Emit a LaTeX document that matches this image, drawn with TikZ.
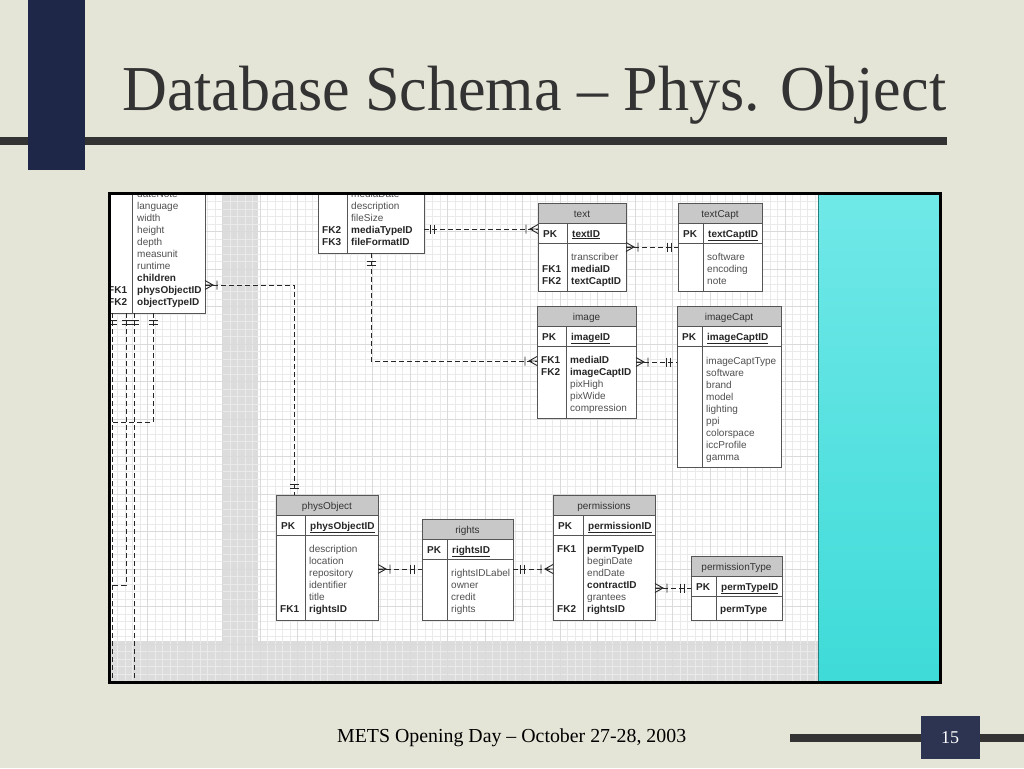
\documentclass[tikz,border=0pt]{standalone}
\usepackage{fontspec}
\usepackage{graphicx}
\setmainfont{Liberation Serif}
\newfontfamily\tabfont{Liberation Sans}
\definecolor{bgc}{HTML}{E5E5D7}
\definecolor{navy}{HTML}{1F2749}
\definecolor{barc}{HTML}{333333}
\definecolor{hdrc}{HTML}{C8C8C8}
\definecolor{linec}{HTML}{555555}
\definecolor{bandc}{HTML}{DCDCDC}
\definecolor{gridc}{HTML}{EAEAEA}
\definecolor{gridm}{HTML}{DADADA}
\definecolor{fldc}{HTML}{505050}
\definecolor{titlec}{HTML}{333333}
\definecolor{cyantop}{HTML}{70E8E8}
\definecolor{cyanbot}{HTML}{3EDBD8}
\tikzset{
 tabframe/.style={fill=white, draw=linec, line width=0.8pt, inner sep=0pt, outer sep=0pt, rectangle},
 tabline/.style={draw=linec, line width=0.8pt},
 hdr/.style={font=\tabfont\fontsize{10}{12}\selectfont, text=titlec, inner sep=0pt},
 pkl/.style={anchor=base west, inner sep=0pt, font=\tabfont\bfseries\fontsize{10}{12}\selectfont, text=black!85},
 fn/.style={anchor=base west, inner sep=0pt, font=\tabfont\fontsize{10}{12}\selectfont, text=fldc},
 fb/.style={anchor=base west, inner sep=0pt, font=\tabfont\bfseries\fontsize{10}{12}\selectfont, text=black!85},
 rel/.style={draw=black!85, line width=0.9pt, dash pattern=on 5pt off 3pt},
 mk/.style={draw=black!85, line width=0.9pt},
 gridminor/.style={draw=gridc, line width=0.5pt},
 gridmajor/.style={draw=gridm, line width=0.5pt},
}
\newcommand\ertab[8]{%
 \node[tabframe, minimum width=#4-#2, minimum height=#5-#3] (#1) at ({(#2+#4)/2},{(#3+#5)/2}) {};
 \fill[hdrc] (#2,#3) rectangle (#4,#3+20.5);
 \draw[tabline] (#2,#3+20.5) -- (#4,#3+20.5) (#2,#3+40.5) -- (#4,#3+40.5) (#6,#3+20.5) -- (#6,#5);
 \draw[tabline] (#1.north west) rectangle (#1.south east);
 \node[hdr, anchor=base] (#1-h) at ({(#2+#4)/2},#3+14) {#7};
 \node[pkl] (#1-pl) at (#2+5,#3+34.1) {PK};
 \node[fb] (#1-pk) at (#6+5,#3+34.1) {\underline{#8}};
}
\newcommand\erbody[4]{\foreach \fs/\ft [count=\i] in {#4} {\node[f\fs] (#1-r\i) at (#2,{#3+12*(\i-1)+3.6}) {\ft};}}
\newcommand\fkl[4]{\node[pkl] (#1) at (#2,#3+3.6) {#4};}
\newcommand\hbars[2]{\draw[mk] (#1-2,#2-4.5) -- (#1-2,#2+4.5) (#1+2,#2-4.5) -- (#1+2,#2+4.5);}
\newcommand\vbars[2]{\draw[mk] (#1-4.5,#2-2) -- (#1+4.5,#2-2) (#1-4.5,#2+2) -- (#1+4.5,#2+2);}
\newcommand\crowL[2]{\draw[mk] (#1,#2-4.5) -- (#1+8,#2) -- (#1,#2+4.5) (#1,#2) -- (#1+8,#2) (#1+12,#2-4.5) -- (#1+12,#2+4.5);}
\newcommand\crowR[2]{\draw[mk] (#1,#2-4.5) -- (#1-8,#2) -- (#1,#2+4.5) (#1,#2) -- (#1-8,#2) (#1-12,#2-4.5) -- (#1-12,#2+4.5);}
\begin{document}
\begin{tikzpicture}[x=1pt,y=-1pt]
\useasboundingbox (0,0) rectangle (1024,768);
\fill[bgc] (0,0) rectangle (1024,768);
% title area
\fill[barc] (0,137) rectangle (947,145);
\fill[navy] (28,0) rectangle (85,170);
\node[anchor=base west, inner sep=0pt, text=titlec] (title) at (122,110)
  {\fontsize{64}{64}\selectfont\scalebox{0.97}[1]{Database Schema – Phys. Object}};
% diagram area
\begin{scope}
\clip (110,194) rectangle (818,682);
\fill[white] (110,194) rectangle (818,682);
\fill[bandc] (222,194) rectangle (258,682);
\fill[bandc] (110,641) rectangle (818,682);
\foreach \gx in {0,...,95} {\draw[gridminor] ({110+7.5*\gx},194) -- ({110+7.5*\gx},682);}
\foreach \gy in {0,...,66} {\draw[gridminor] (110,{194+7.5*\gy}) -- (818,{194+7.5*\gy});}
\foreach \gx in {0,...,19} {\draw[gridmajor] ({110+37.5*\gx},194) -- ({110+37.5*\gx},682);}
\foreach \gy in {0,...,13} {\draw[gridmajor] (110,{194+37.5*\gy}) -- (818,{194+37.5*\gy});}
% tables
\ertab{tl}{103}{130}{205}{313}{132}{}{}
\erbody{tl}{137}{194}{n/dateNote,n/language,n/width,n/height,n/depth,n/measunit,n/runtime,b/children,b/physObjectID,b/objectTypeID}
\fkl{tl-k1}{108}{290}{FK1}
\fkl{tl-k2}{108}{302}{FK2}
\ertab{media}{318}{130}{424}{253}{347}{}{}
\erbody{media}{351}{194}{n/mediaDate,n/description,n/fileSize,b/mediaTypeID,b/fileFormatID}
\fkl{media-k2}{322}{230}{FK2}
\fkl{media-k3}{322}{242}{FK3}
\ertab{text}{538}{203}{626}{291}{567}{text}{textID}
\erbody{text}{571}{257}{n/transcriber,b/mediaID,b/textCaptID}
\fkl{text-k1}{542}{269}{FK1}
\fkl{text-k2}{542}{281}{FK2}
\ertab{textCapt}{678}{203}{762}{291}{703}{textCapt}{textCaptID}
\erbody{textCapt}{707}{257}{n/software,n/encoding,n/note}
\ertab{image}{537}{306}{636}{418}{566}{image}{imageID}
\erbody{image}{570}{360}{b/mediaID,b/imageCaptID,n/pixHigh,n/pixWide,n/compression}
\fkl{image-k1}{541}{360}{FK1}
\fkl{image-k2}{541}{372}{FK2}
\ertab{imageCapt}{677}{306}{781}{467}{702}{imageCapt}{imageCaptID}
\erbody{imageCapt}{706}{361}{n/imageCaptType,n/software,n/brand,n/model,n/lighting,n/ppi,n/colorspace,n/iccProfile,n/gamma}
\ertab{physObject}{276}{495}{378}{620}{305}{physObject}{physObjectID}
\erbody{physObject}{309}{549}{n/description,n/location,n/repository,n/identifier,n/title,b/rightsID}
\fkl{physObject-k1}{280}{609}{FK1}
\ertab{rights}{422}{519}{513}{620}{447}{rights}{rightsID}
\erbody{rights}{451}{573}{n/rightsIDLabel,n/owner,n/credit,n/rights}
\ertab{permissions}{553}{495}{655}{620}{583}{permissions}{permissionID}
\erbody{permissions}{587}{549}{b/permTypeID,n/beginDate,n/endDate,b/contractID,n/grantees,b/rightsID}
\fkl{permissions-k1}{557}{549}{FK1}
\fkl{permissions-k2}{557}{609}{FK2}
\ertab{permissionType}{691}{556}{782}{620}{716}{permissionType}{permTypeID}
\erbody{permissionType}{720}{609}{b/permType}
% connectors
\coordinate (ya) at (0,229);
\coordinate (yb) at (0,247);
\coordinate (yc) at (0,361);
\coordinate (yd) at (0,362);
\coordinate (ye) at (0,285);
\coordinate (xe) at (294,0);
\coordinate (yf) at (0,569);
\coordinate (yh) at (0,588);
\draw[rel] (media.east |- ya) -- (text.west |- ya);
\hbars{432}{229} \crowR{538}{229}
\draw[rel] (text.east |- yb) -- (textCapt.west |- yb);
\crowL{626}{247} \hbars{669}{247}
\draw[rel] (media.south) |- (image.west |- yc);
\vbars{371}{263} \crowR{537}{361}
\draw[rel] (image.east |- yd) -- (imageCapt.west |- yd);
\crowL{636}{362} \hbars{668}{362}
\draw[rel] (tl.east |- ye) -| (xe |- physObject.north);
\crowL{205}{285} \vbars{294}{486}
\draw[rel] (physObject.east |- yf) -- (rights.west |- yf);
\crowL{378}{569} \hbars{412}{569}
\draw[rel] (rights.east |- yf) -- (permissions.west |- yf);
\hbars{522}{569} \crowR{553}{569}
\draw[rel] (permissions.east |- yh) -- (permissionType.west |- yh);
\crowL{655}{588} \hbars{682}{588}
% left side relations leaving the view
\coordinate (la1) at (112,313);
\coordinate (la2) at (126,313);
\coordinate (la3) at (134,313);
\coordinate (la4) at (153,313);
\coordinate (lb1) at (112,690);
\coordinate (lb3) at (134,690);
\coordinate (le2) at (112,585);
\coordinate (le4) at (112,422);
\draw[rel] (la1) -- (lb1);
\draw[rel] (la2) |- (le2);
\draw[rel] (la3) -- (lb3);
\draw[rel] (la4) |- (le4);
\vbars{112}{322} \vbars{126}{322} \vbars{134}{322} \vbars{153}{322}
\end{scope}
% cyan panel
\shade[top color=cyantop, bottom color=cyanbot] (818,194) rectangle (940,682);
\draw[color=teal!70!gray, line width=1.5pt] (818.5,194) -- (818.5,682);
% frame
\draw[black, line width=3pt] (109.5,193.5) rectangle (940.5,682.5);
% footer
\node[anchor=base west, inner sep=0pt, text=black] (footer) at (337,742)
  {\fontsize{19.85}{20}\selectfont METS Opening Day – October 27-28, 2003};
\fill[barc] (790,734) rectangle (1024,742);
\fill[navy!85!gray] (921,716) rectangle (980,759);
\node[inner sep=0pt, text=white] (pagenum) at (950,738) {\fontsize{18}{18}\selectfont 15};
\end{tikzpicture}
\end{document}
